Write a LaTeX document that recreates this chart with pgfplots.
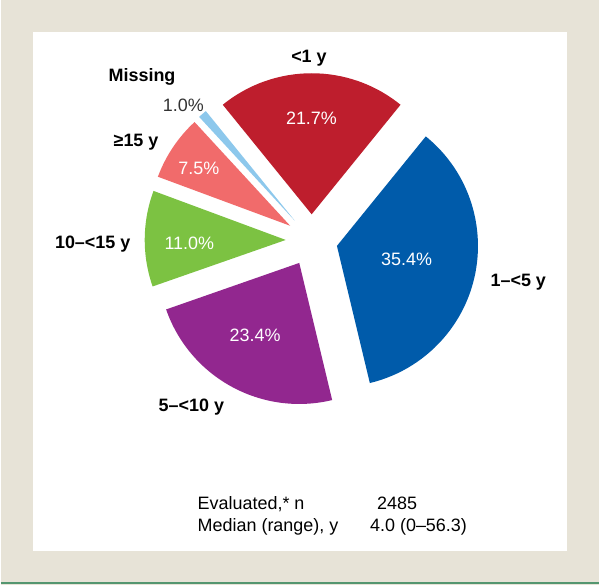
\documentclass[border=0pt]{standalone}
\usepackage{pgfplots}
\pgfplotsset{compat=1.18}
\usepackage{pgfplotstable}
\usepackage{fontspec}
\setmainfont{Liberation Sans}

\definecolor{framebg}{RGB}{231,227,215}
\definecolor{lineg}{RGB}{84,150,112}
\definecolor{slice0}{RGB}{190,30,45}   % <1 y
\definecolor{slice1}{RGB}{0,91,170}    % 1-<5 y
\definecolor{slice2}{RGB}{146,39,143}  % 5-<10 y
\definecolor{slice3}{RGB}{124,194,66}  % 10-<15 y
\definecolor{slice4}{RGB}{241,107,107} % >=15 y
\definecolor{slice5}{RGB}{141,200,236} % missing

% share of patients by age group, clockwise from <1 y
\pgfplotstableread{
pct
21.7
35.4
23.4
11.0
7.5
1.0
}\piedata

\begin{document}
\begin{tikzpicture}[
  cat/.style={font=\fontsize{9}{11}\selectfont\bfseries, inner sep=0pt, anchor=base},
  val/.style={font=\fontsize{9}{11}\selectfont, inner sep=0pt, anchor=base, white},
  txt/.style={font=\fontsize{9}{11}\selectfont, inner sep=0pt, anchor=base west},
]
\begin{axis}[
  x=0.5pt, y=0.5pt,
  xmin=0, xmax=600, ymin=0, ymax=587,
  hide axis, clip=false, scale only axis,
]
\fill[framebg] (axis cs:0,0) rectangle (axis cs:600,587);
\fill[white] (axis cs:32,34) rectangle (axis cs:568,555);
\draw[lineg, line width=1pt] (axis cs:0,2) -- (axis cs:600,2);

\pgfmathsetmacro{\curang}{90+21.7*1.8}
\pgfplotsforeachungrouped \i in {0,...,5}{%
  \pgfplotstablegetelem{\i}{pct}\of\piedata
  \pgfmathsetmacro{\sweep}{\pgfplotsretval*3.6}%
  \pgfmathsetmacro{\midang}{\curang-\sweep/2}%
  \pgfmathsetmacro{\endang}{\curang-\sweep}%
  \pgfmathsetmacro{\ox}{311.7+26*cos(\midang)}%
  \pgfmathsetmacro{\oy}{346+26*sin(\midang)}%
  \edef\slice{\noexpand\fill[slice\i] (axis cs:\ox,\oy) -- ++(\curang:70.75pt)
    arc[start angle=\curang, end angle=\endang, radius=70.75pt] -- cycle;}%
  \slice
  \global\let\curang\endang
}

\node[cat] at (axis cs:309,524) {<1 y};
\node[cat] at (axis cs:141.5,505) {Missing};
\node[font=\fontsize{9}{11}\selectfont, inner sep=0pt, anchor=base, black!80] at (axis cs:183,475) {1.0\%};
\node[cat] at (axis cs:135.5,440) {≥15 y};
\node[cat] at (axis cs:92,338) {10–<15 y};
\node[cat] at (axis cs:519,300) {1–<5 y};
\node[cat] at (axis cs:191,174) {5–<10 y};

\node[val] at (axis cs:311.5,462) {21.7\%};
\node[val] at (axis cs:198.5,412) {7.5\%};
\node[val] at (axis cs:189,337) {11.0\%};
\node[val] at (axis cs:407,321) {35.4\%};
\node[val] at (axis cs:255,244) {23.4\%};

\node[txt] at (axis cs:197,76) {Evaluated,* n};
\node[txt] at (axis cs:197,54) {Median (range), y};
\node[txt] at (axis cs:377,76) {2485};
\node[txt] at (axis cs:370,54) {4.0 (0–56.3)};
\end{axis}
\end{tikzpicture}
\end{document}
